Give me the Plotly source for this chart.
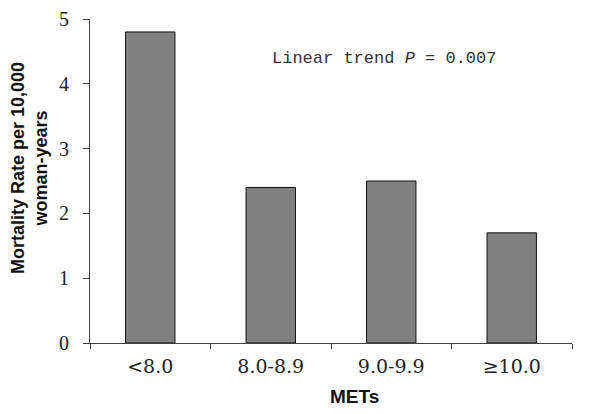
import plotly.graph_objects as go

categories = ["<8.0", "8.0-8.9", "9.0-9.9", "\u226510.0"]
rates = [4.8, 2.4, 2.5, 1.7]
y_ticks = [0, 1, 2, 3, 4, 5]

fig = go.Figure(go.Bar(
    x=categories,
    y=rates,
    width=0.41,
    marker=dict(color="#808080", line=dict(color="#111111", width=1)),
    hoverinfo="skip",
))

# trend note
fig.add_annotation(
    x=0.61, y=0.878, xref="paper", yref="paper",
    xanchor="center", yanchor="middle",
    text="Linear trend <i>P</i> = 0.007",
    showarrow=False,
    font=dict(family="Liberation Mono, Courier New, monospace", size=17, color="#333333"),
)
# axis titles placed by hand
fig.add_annotation(
    x=0.548, y=-0.165, xref="paper", yref="paper",
    xanchor="center", yanchor="middle",
    text="<b>METs</b>", showarrow=False,
    font=dict(family="Liberation Sans, Arial, sans-serif", size=19, color="#111"),
)
fig.add_annotation(
    x=-0.1266, y=0.54, xref="paper", yref="paper",
    xanchor="center", yanchor="middle",
    text="<b>Mortality Rate per 10,000<br>woman-years</b>", showarrow=False,
    textangle=-90,
    font=dict(family="Liberation Sans, Arial, sans-serif", size=18, color="#111"),
)

fig.update_layout(
    width=594, height=406,
    margin=dict(l=82, r=30, t=11, b=71),
    paper_bgcolor="white",
    plot_bgcolor="white",
    showlegend=False,
    xaxis=dict(
        type="category",
        range=[-0.5, 3.5],
        tickson="boundaries",
        ticks="outside", ticklen=5, tickcolor="#404040",
        showline=True, linecolor="#404040", linewidth=1,
        showgrid=False, automargin=False,
        ticklabelstandoff=6, ticklabeloverflow="allow",
        tickfont=dict(family="DejaVu Serif, serif", size=19, color="#222"),
    ),
    yaxis=dict(
        range=[0, 5],
        tickvals=y_ticks,
        ticks="outside", ticklen=6, tickcolor="#404040",
        showline=True, linecolor="#404040", linewidth=1,
        showgrid=False, zeroline=False, automargin=False,
        ticklabelstandoff=10, ticklabeloverflow="allow",
        tickfont=dict(family="Liberation Serif, Times New Roman, serif", size=20, color="#222"),
    ),
)

fig.write_html("out.html")
